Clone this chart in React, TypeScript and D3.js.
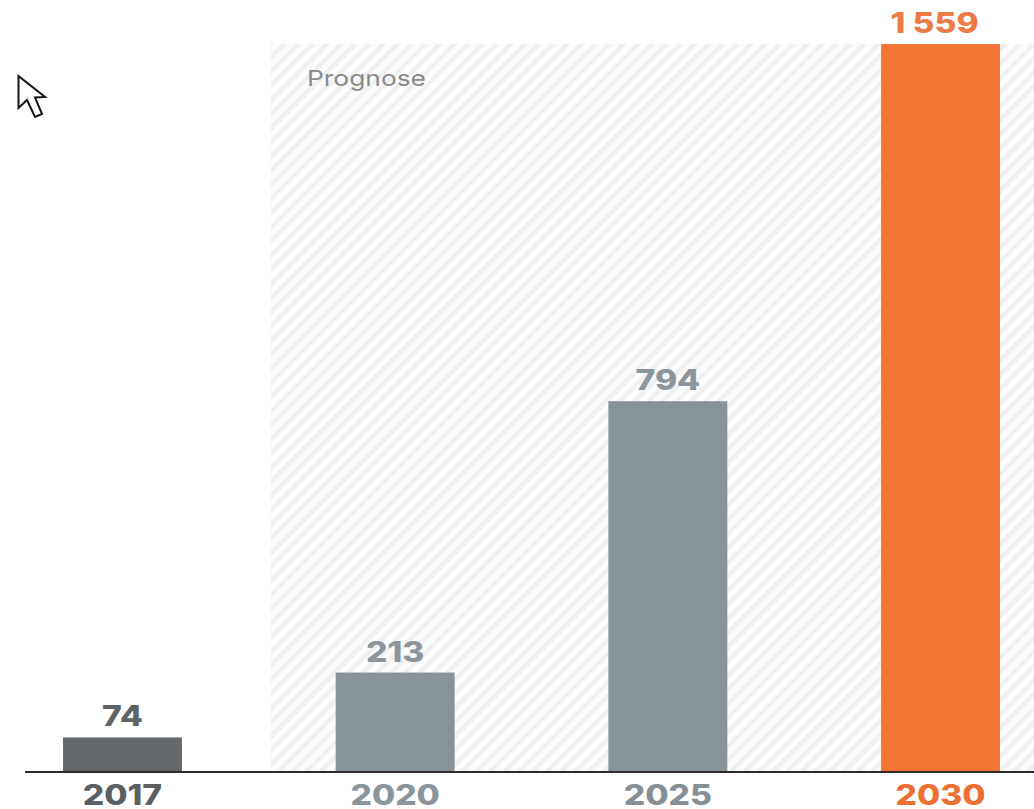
import React from "react";
import * as d3 from "d3";

const years = ["2017", "2020", "2025", "2030"];
const values = [74, 213, 794, 1559];
const valueLabels = ["74", "213", "794", "1 559"];
const barColors = ["#65696b", "#87939a", "#87939a", "#f57535"];
const valueColors = ["#5f6366", "#8b959b", "#8b959b", "#ee7a45"];
const yearColors = ["#5a6063", "#8b959b", "#858f95", "#ee6f33"];
const forecastStart = "2020";
const forecastLabel = "Prognose";

const W = 1034;
const H = 809;
const baseline = 772;
const top = 44;
const font = "Inter, 'Open Sans', sans-serif";
// Labels are set wide: glyphs are stretched horizontally about their centre.
const labelStretch = 1.18;
// The grouped thousands label sits slightly left of its bar's centre.
const groupedLabelShift = -6;

function WideLabel({ cx, baselineY, fill, children }: { cx: number; baselineY: number; fill: string; children: string }) {
  return (
    <text
      transform={`translate(${cx} ${baselineY}) scale(${labelStretch} 1)`}
      textAnchor="middle"
      fontFamily={font}
      fontWeight={800}
      fontSize={28.5}
      fill={fill}
    >
      {children}
    </text>
  );
}

export default function App() {
  const x = d3.scaleBand<string>().domain(years).range([63, 1000]).paddingInner(0.5638).paddingOuter(0);
  const y = d3.scaleLinear().domain([0, 1559]).range([baseline, top]);
  const forecastLeft = (x(forecastStart) as number) - 65;

  return (
    <svg width={W} height={H} viewBox={`0 0 ${W} ${H}`} style={{ position: "absolute", left: 0, top: 0, background: "#fff" }}>
      <defs>
        <pattern id="hatch" width="10" height="10" patternUnits="userSpaceOnUse" patternTransform="rotate(-45)">
          <rect width="10" height="10" fill="#fdfdfd" />
          <rect width="10" height="4.5" fill="#f0f0f0" />
        </pattern>
      </defs>

      {/* forecast band */}
      <rect x={forecastLeft} y={top} width={W - forecastLeft} height={baseline - top} fill="url(#hatch)" />
      <text x={307} y={86} fontFamily={font} fontSize={22} fill="#8a8a8a" textLength={119} lengthAdjust="spacingAndGlyphs">
        {forecastLabel}
      </text>

      {/* bars, value labels and year labels */}
      {years.map((year, i) => {
        const bx = x(year) as number;
        const cx = bx + x.bandwidth() / 2;
        const shift = values[i] >= 1000 ? groupedLabelShift : 0;
        return (
          <g key={year}>
            <rect x={bx} y={y(values[i])} width={x.bandwidth()} height={baseline - y(values[i])} fill={barColors[i]} />
            <WideLabel cx={cx + shift} baselineY={y(values[i]) - 11} fill={valueColors[i]}>
              {valueLabels[i]}
            </WideLabel>
            <WideLabel cx={cx} baselineY={805} fill={yearColors[i]}>
              {year}
            </WideLabel>
          </g>
        );
      })}

      {/* baseline */}
      <line x1={25} x2={W} y1={baseline} y2={baseline} stroke="#2f2a28" strokeWidth={2} />

      {/* pointer glyph */}
      <path
        d="M18.5 76 L18.5 108 L27 100 L35 117 L42 114 L35 97.5 L45 97 Z"
        fill="#fff"
        stroke="#161616"
        strokeWidth={2}
        strokeLinejoin="miter"
      />
    </svg>
  );
}
